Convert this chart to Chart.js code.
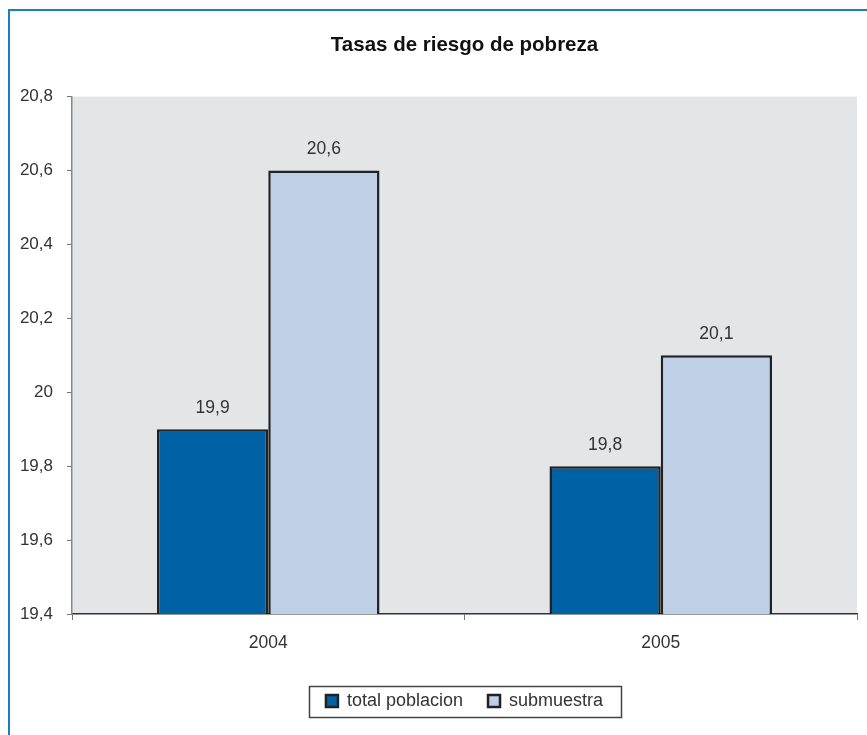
<!DOCTYPE html>
<html><head><meta charset="utf-8">
<script src="https://cdn.jsdelivr.net/npm/chart.js@4"></script>
<style>
html,body{margin:0;padding:0;background:#fff;}
#wrap{position:relative;width:867px;height:735px;}
#frame{position:absolute;left:8px;top:9px;right:0;bottom:0;border-top:2px solid #1c7dc3;border-left:2px solid #1c7dc3;pointer-events:none;}
canvas{position:absolute;left:0;top:0;}
</style></head>
<body><div id="wrap"><canvas id="c" width="867" height="735"></canvas><div id="frame"></div></div>
<script>
const categories = ['2004', '2005'];
const seriesNames = ['total poblacion', 'submuestra'];
const totalPoblacion = [19.9, 19.8];
const submuestra = [20.6, 20.1];
const yTicks = { min: 19.4, max: 20.8, step: 0.2 };
const chartTitle = 'Tasas de riesgo de pobreza';

const fmt = v => Number(v.toFixed(1)).toString().replace('.', ',');
const FONT = "'Liberation Sans', Arial, Helvetica, sans-serif";

const bgPlugin = {
  id: 'bg',
  beforeDraw(chart) {
    const a = chart.chartArea, ctx = chart.ctx;
    ctx.save(); ctx.fillStyle = '#e4e5e7';
    ctx.fillRect(a.left, a.top, a.right - a.left, a.bottom - a.top);
    ctx.restore();
  }
};
const labelPlugin = {
  id: 'vals',
  afterDatasetsDraw(chart) {
    const ctx = chart.ctx;
    ctx.save();
    ctx.font = '17.5px ' + FONT; ctx.fillStyle = '#333';
    ctx.textAlign = 'center'; ctx.textBaseline = 'middle';
    chart.data.datasets.forEach((ds, i) => {
      chart.getDatasetMeta(i).data.forEach((bar, j) => {
        ctx.fillText(fmt(ds.data[j]), bar.x, bar.y - 21);
      });
    });
    ctx.restore();
  }
};
const legendBox = {
  id: 'legendBox',
  afterDraw(chart) {
    const hb = chart.legend.legendHitBoxes;
    if (!hb || !hb.length) return;
    const l = Math.min(...hb.map(h => h.left)) - 17;
    const r = Math.max(...hb.map(h => h.left + h.width)) + 18;
    const cy = hb[0].top + hb[0].height / 2;
    const ctx = chart.ctx;
    ctx.save(); ctx.strokeStyle = '#444'; ctx.lineWidth = 1.5;
    ctx.strokeRect(Math.round(l) + 0.5, Math.round(cy - 15.5) + 0.5, Math.round(r - l), 31);
    ctx.restore();
  }
};

new Chart(document.getElementById('c'), {
  type: 'bar',
  data: {
    labels: categories,
    datasets: [
      { label: seriesNames[0], data: totalPoblacion, backgroundColor: '#0062a4', borderColor: '#222', borderWidth: 2.5 },
      { label: seriesNames[1], data: submuestra, backgroundColor: '#bfcfe6', borderColor: '#222', borderWidth: 2.5 }
    ]
  },
  options: {
    responsive: false, animation: false,
    categoryPercentage: 0.567, barPercentage: 1,
    layout: { padding: { left: 10, right: 10, top: 25, bottom: 15 } },
    plugins: {
      title: { display: true, text: chartTitle, fullSize: false, color: '#111',
        font: { family: FONT, size: 20.5, weight: 'bold' }, padding: { top: 8, bottom: 39 } },
      legend: { position: 'bottom', fullSize: false,
        labels: { boxWidth: 12, boxHeight: 12, padding: 25, color: '#333', font: { family: FONT, size: 18 } } },
      tooltip: { enabled: false }
    },
    scales: {
      x: {
        grid: { display: true, drawOnChartArea: false, tickLength: 6, color: '#777', offset: true },
        border: { display: true, color: '#333', width: 1.5 },
        ticks: { color: '#333', font: { family: FONT, size: 17.5 }, padding: 13 }
      },
      y: {
        min: yTicks.min, max: yTicks.max,
        afterFit(s) { s.width = 62; },
        grid: { display: true, drawOnChartArea: false, tickLength: 5, color: '#777' },
        border: { display: true, color: '#888', width: 1.5 },
        ticks: { stepSize: yTicks.step, color: '#333', font: { family: FONT, size: 17 }, padding: 14, callback: v => fmt(v) }
      }
    }
  },
  plugins: [bgPlugin, labelPlugin, legendBox]
});
</script></body></html>
